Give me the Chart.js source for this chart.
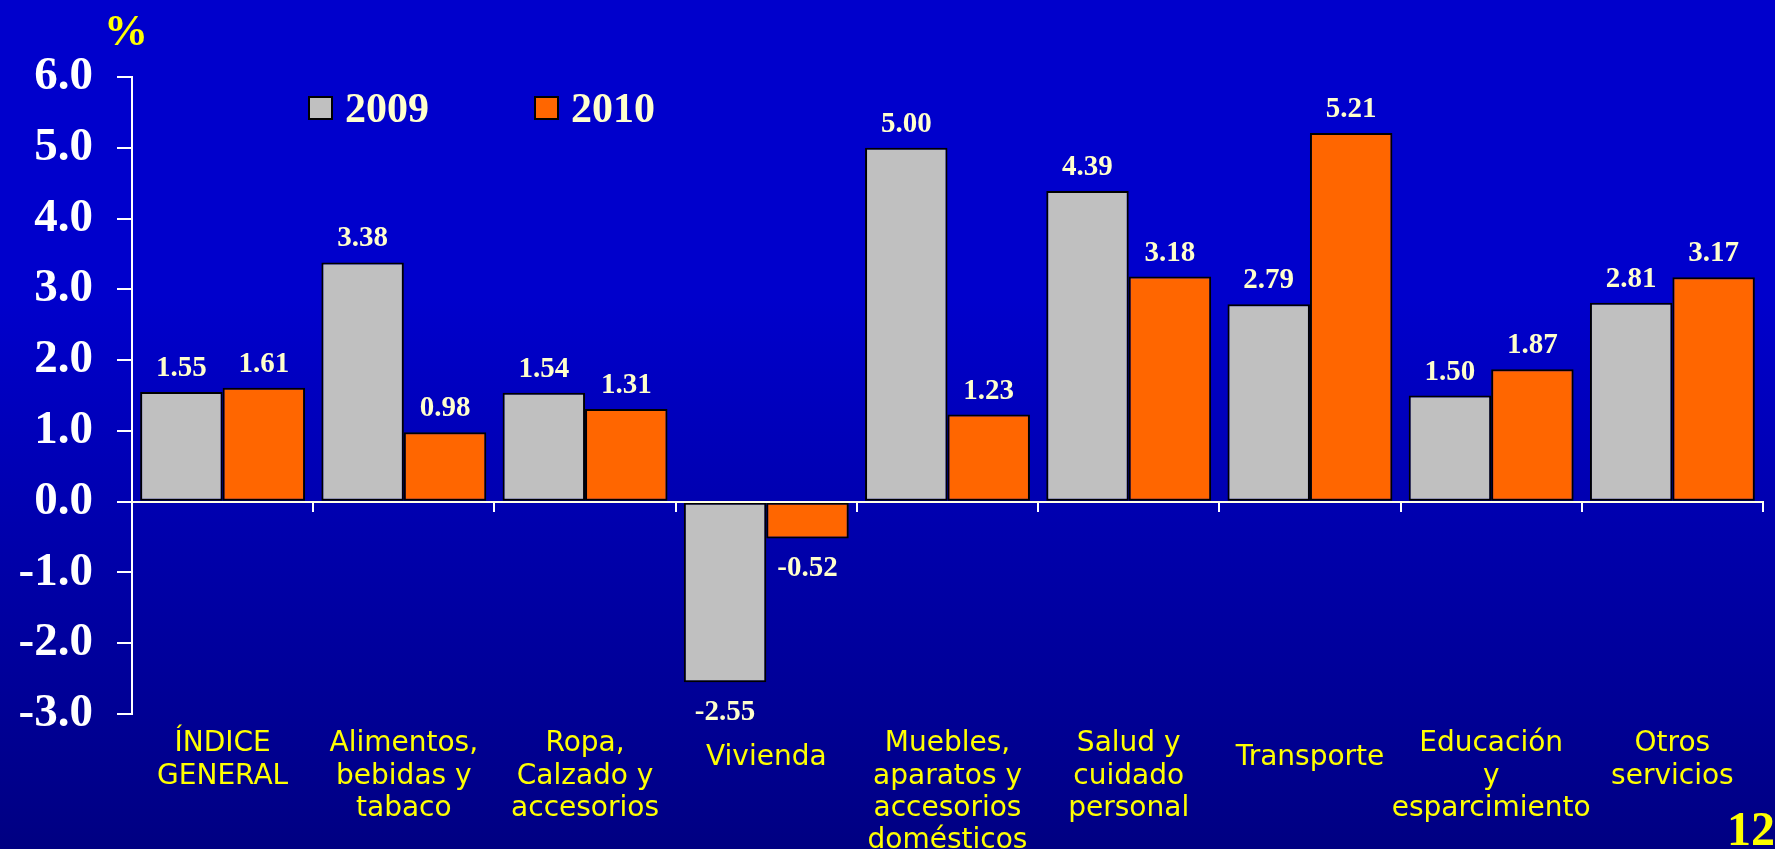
<!DOCTYPE html>
<html>
<head>
<meta charset="utf-8">
<title>Variación de precios por grupo</title>
<script src="https://cdn.jsdelivr.net/npm/chart.js@4.4.1/dist/chart.umd.min.js"></script>
<style>
  html, body { margin: 0; padding: 0; }
  body {
    width: 1775px; height: 849px; overflow: hidden;
    background: linear-gradient(to bottom, #0000cc 0%, #0000cc 35%, #000082 100%);
  }
  #chart { display: block; }
</style>
</head>
<body>
<canvas id="chart" width="1775" height="849"></canvas>
<script>
// groups, one label line per array entry
var categories = [
    ["ÍNDICE", "GENERAL"],
    ["Alimentos,", "bebidas y", "tabaco"],
    ["Ropa,", "Calzado y", "accesorios"],
    ["Vivienda"],
    ["Muebles,", "aparatos y", "accesorios", "domésticos"],
    ["Salud y", "cuidado", "personal"],
    ["Transporte"],
    ["Educación", "y", "esparcimiento"],
    ["Otros", "servicios"]
];
var years = ["2009", "2010"];
var values2009 = [1.55, 3.38, 1.54, -2.55, 5.00, 4.39, 2.79, 1.50, 2.81];
var values2010 = [1.61, 0.98, 1.31, -0.52, 1.23, 3.18, 5.21, 1.87, 3.17];
var yMin = -3, yMax = 6, yStep = 1;

var serif = '"Liberation Serif", "Times New Roman", serif';

// numbers over / under each bar
var barValues = {
    id: 'barValues',
    afterDatasetsDraw: function(chart) {
        var ctx = chart.ctx;
        ctx.save();
        ctx.font = 'bold 29px ' + serif;
        ctx.fillStyle = '#ffffcc';
        ctx.textAlign = 'center';
        ctx.textBaseline = 'alphabetic';
        chart.data.datasets.forEach(function(ds, i) {
            chart.getDatasetMeta(i).data.forEach(function(bar, j) {
                var v = ds.data[j];
                if (v >= 0) ctx.fillText(v.toFixed(2), bar.x, bar.y - 16);
                else ctx.fillText(v.toFixed(2), bar.x, bar.y + 38);
            });
        });
        ctx.restore();
    }
};

// legend sits inside the plot, plus the "%" unit and page number
var slideText = {
    id: 'slideText',
    afterDraw: function(chart) {
        var ctx = chart.ctx;
        ctx.save();
        ctx.textBaseline = 'alphabetic';
        ctx.textAlign = 'left';
        ctx.font = 'bold 42px ' + serif;
        chart.data.datasets.forEach(function(ds, i) {
            var x = 309 + i * 226, y = 97;
            ctx.fillStyle = ds.backgroundColor;
            ctx.fillRect(x, y, 23, 22);
            ctx.lineWidth = 2;
            ctx.strokeStyle = '#000';
            ctx.strokeRect(x, y, 23, 22);
            ctx.fillStyle = '#ffffcc';
            ctx.fillText(ds.label, x + 36, 122);
        });
        ctx.fillStyle = '#ffff00';
        ctx.font = 'bold 44px ' + serif;
        ctx.fillText('%', 104, 45);
        ctx.font = 'bold 48px ' + serif;
        ctx.fillText('12', 1727, 845);
        ctx.restore();
    }
};

new Chart(document.getElementById('chart'), {
    type: 'bar',
    data: {
        labels: categories,
        datasets: [{
            label: years[0],
            data: values2009,
            backgroundColor: '#c0c0c0',
            borderColor: '#000',
            borderWidth: 2,
            borderSkipped: false,
            categoryPercentage: 0.91,
            barPercentage: 1
        }, {
            label: years[1],
            data: values2010,
            backgroundColor: '#ff6600',
            borderColor: '#000',
            borderWidth: 2,
            borderSkipped: false,
            categoryPercentage: 0.91,
            barPercentage: 1
        }]
    },
    options: {
        responsive: false,
        animation: false,
        layout: { padding: { top: 77, right: 12, left: 0, bottom: 0 } },
        plugins: {
            legend: { display: false },
            tooltip: { enabled: false }
        },
        scales: {
            x: {
                grid: { display: false, drawTicks: false },
                border: { display: false },
                ticks: {
                    color: '#ffff00',
                    padding: 14,
                    maxRotation: 0,
                    minRotation: 0,
                    autoSkip: false,
                    font: function(c) {
                        // single-line names sit a bit lower
                        var one = categories[c.index] && categories[c.index].length == 1;
                        return { family: '"DejaVu Sans", sans-serif', size: 28, lineHeight: one ? 2.14 : 1.15 };
                    }
                },
                afterFit: function(s) { s.height = 135; }
            },
            // zero line with the group tick marks
            x2: {
                type: 'category',
                position: { y: 0 },
                offset: true,
                ticks: { display: false },
                grid: { offset: true, drawOnChartArea: false, drawTicks: true, tickLength: 9, color: '#ffffff', lineWidth: 2 },
                border: { color: '#ffffe8', width: 2, z: 1 }
            },
            y: {
                min: yMin,
                max: yMax,
                ticks: {
                    stepSize: yStep,
                    color: '#ffffff',
                    padding: 24,
                    font: { family: serif, size: 47, weight: 'bold' },
                    callback: function(v) { return v.toFixed(1); }
                },
                grid: { drawOnChartArea: false, drawTicks: true, tickLength: 15, color: '#ffffff', lineWidth: 2 },
                border: { color: '#ffffff', width: 2 },
                afterFit: function(s) { s.width = 132; }
            }
        }
    },
    plugins: [barValues, slideText]
});
</script>
</body>
</html>
